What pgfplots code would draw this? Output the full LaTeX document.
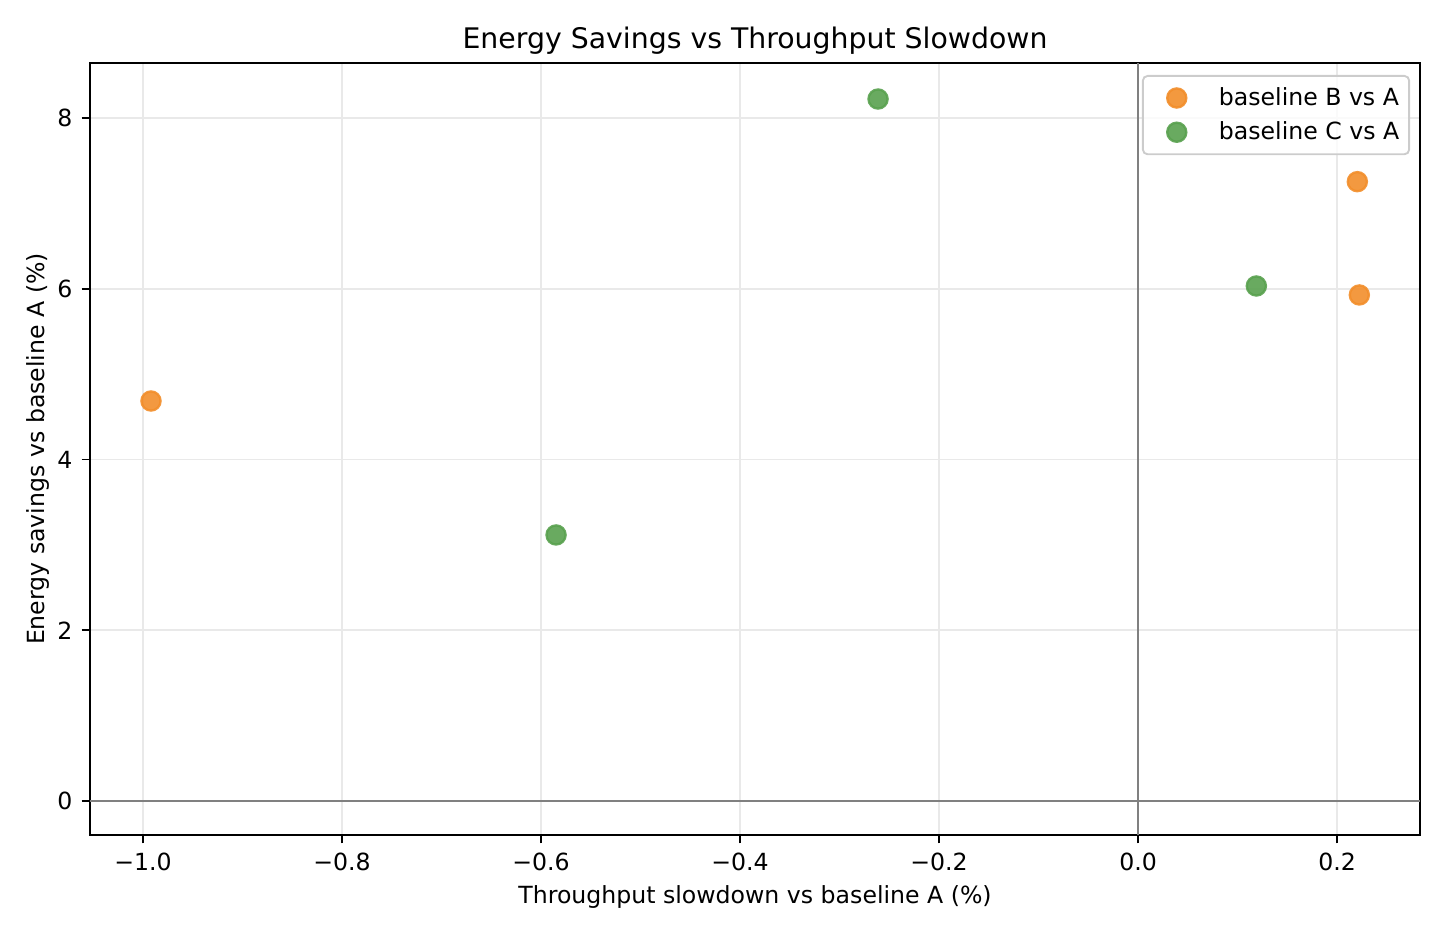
\documentclass[border=0pt]{standalone}
\usepackage{pgfplots}
\pgfplotsset{compat=1.18}
\usepackage{fontspec}
\setmainfont{DejaVu Sans}

\definecolor{cB}{HTML}{F28E2B}
\definecolor{cC}{HTML}{59A14F}
\definecolor{gridc}{RGB}{233,233,233}
\definecolor{zeroc}{RGB}{128,128,128}
\definecolor{legc}{RGB}{204,204,204}

\begin{document}
\begin{tikzpicture}
\useasboundingbox (-38.12pt,-42.35pt) rectangle (573.88pt,353.64pt);
\begin{axis}[
  scale only axis,
  width=563.29pt, height=326.96pt,
  xmin=-1.0533, xmax=0.2834,
  ymin=-0.398, ymax=8.644,
  axis line style={line width=0.8pt},
  tick align=outside, tick pos=left,
  major tick length=3.5pt,
  every tick/.style={black, line width=0.8pt},
  xtick={-1,-0.8,-0.6,-0.4,-0.2,0,0.2},
  xticklabels={−1.0,−0.8,−0.6,−0.4,−0.2,0.0,0.2},
  ytick={0,2,4,6,8},
  yticklabels={0,2,4,6,8},
  xticklabel style={anchor=base, yshift=-11.75pt, inner sep=0pt, font=\fontsize{10}{12}\selectfont},
  yticklabel style={anchor=east, xshift=-3.8pt, inner sep=0pt, font=\fontsize{10}{12}\selectfont},
  grid=major,
  major grid style={gridc, line width=0.8pt},
  title={Energy Savings vs Throughput Slowdown},
  every axis title shift=0pt,
  title style={at={(axis description cs:0.5,1.01814)}, anchor=base, inner sep=0pt, font=\fontsize{12}{14.4}\selectfont},
  xlabel={Throughput slowdown vs baseline A (\%)},
  xlabel style={at={(axis description cs:0.5,-0.08932)}, anchor=base, inner sep=0pt, font=\fontsize{10}{12}\selectfont},
  ylabel={Energy savings vs baseline A (\%)},
  ylabel style={at={(axis description cs:-0.0345,0.5)}, anchor=base, inner sep=0pt, font=\fontsize{10}{12}\selectfont},
  legend cell align=left,
  legend image code/.code={\path (0pt,0pt) (27pt,0pt); \draw[#1] plot coordinates {(11.65pt,0pt)};},
  legend style={at={(axis description cs:1,1)}, xshift=-4.2pt, yshift=-5.08pt, anchor=north east,
    draw=legc, line width=0.8pt, rounded corners=2pt, fill=white, fill opacity=0.8, text opacity=1,
    inner xsep=2.2pt, inner ysep=2.8pt, row sep=1.4pt, font=\fontsize{10}{12}\selectfont},
]
\draw[zeroc, line width=1pt] (axis cs:-1.0533,0) -- (axis cs:0.2834,0);
\draw[zeroc, line width=1pt] (axis cs:0,-0.398) -- (axis cs:0,8.644);

\addplot[only marks, mark=*, mark size=4.05pt, line width=1pt,
  mark options={draw=cB, fill=cB, fill opacity=0.9, draw opacity=0.9}]
  coordinates {(-0.992,4.685) (0.2204,7.254) (0.2224,5.927)};
\addlegendentry{baseline B vs A}

\addplot[only marks, mark=*, mark size=4.05pt, line width=1pt,
  mark options={draw=cC, fill=cC, fill opacity=0.9, draw opacity=0.9}]
  coordinates {(-0.2613,8.222) (-0.5849,3.116) (0.1189,6.032)};
\addlegendentry{baseline C vs A}
\end{axis}
\end{tikzpicture}
\end{document}
